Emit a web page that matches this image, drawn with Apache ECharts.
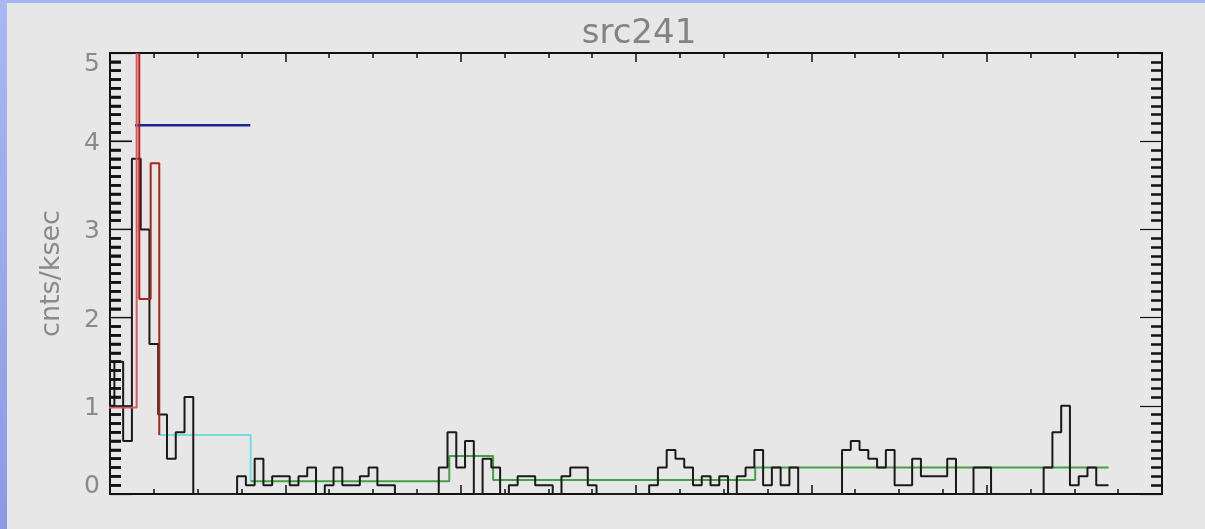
<!DOCTYPE html>
<html>
<head>
<meta charset="utf-8">
<script src="https://cdn.jsdelivr.net/npm/echarts@6/dist/echarts.min.js"></script>
<style>
html,body{margin:0;padding:0;background:#e7e7e7;}
#chart{width:1205px;height:529px;}
</style>
</head>
<body>
<div id="chart"></div>
<script>
// ---- data (x in bin units: 120 bins across the axis, y in cnts/ksec) ----
const titleText = 'src241';
const yAxisName = 'cnts/ksec';
const yTickLabels = ['0', '1', '2', '3', '4', '5'];

// black light-curve histogram, one value per bin (bin i spans i-0.5 .. i+0.5)
const blackValues = [
  1.0, 1.5, 0.6, 3.8, 3.0, 1.7, 0.9, 0.4, 0.7, 1.1,
  0, 0, 0, 0, 0, 0.2, 0.1, 0.4, 0.1, 0.2,
  0.2, 0.1, 0.2, 0.3, 0, 0.1, 0.3, 0.1, 0.1, 0.2,
  0.3, 0.1, 0.1, 0, 0, 0, 0, 0, 0.3, 0.7,
  0.3, 0.6, 0, 0.4, 0.3, 0, 0.1, 0.2, 0.2, 0.1,
  0.1, 0, 0.2, 0.3, 0.3, 0.1, 0, 0, 0, 0,
  0, 0, 0.1, 0.3, 0.5, 0.4, 0.3, 0.1, 0.2, 0.1,
  0.2, 0, 0.2, 0.3, 0.5, 0.1, 0.3, 0.1, 0.3, 0,
  0, 0, 0, 0, 0.5, 0.6, 0.5, 0.4, 0.3, 0.5,
  0.1, 0.1, 0.4, 0.2, 0.2, 0.2, 0.4, 0, 0, 0.3,
  0.3, 0, 0, 0, 0, 0, 0, 0.3, 0.7, 1.0,
  0.1, 0.2, 0.3, 0.1
];
const blackEnd = 113.9;

// block step functions: change points and the level that starts at each one
const pinkEdges = [-0.8, 3.04];
const pinkLevels = [0.98, 5.0];
const redEdges = [3.34, 3.34, 4.64, 5.62];
const redLevels = [5.0, 2.21, 3.75, 0.67];
const cyanEdges = [5.62, 16.05];
const cyanLevels = [0.67, 0.145];
const greenEdges = [16.05, 38.7, 43.7, 73.6, 113.9];
const greenLevels = [0.145, 0.43, 0.16, 0.3, 0.3];
const blueEdges = [2.85, 16.0];
const blueLevels = [4.18, 4.18];

// ---- build ----
function stepData(edges, levels) {
  return edges.map((e, i) => [e, levels[i]]);
}
const blackData = blackValues.map((v, i) => [i - 0.5, v]);
blackData.push([blackEnd, blackValues[blackValues.length - 1]]);

const W = 1205, gridLeft = 110, gridRight = 43, gridTop = 53, gridBottom = 35;
const xMin = 0, xMax = 120;
const yMin = 0, yMax = 5, yMajor = 1, yMinorSplit = 10;
const majorLen = 22, minorLen = 11;
const xPerPx = (xMax - xMin) / (W - gridLeft - gridRight);

// left-frame tick segments, made from the axis settings and drawn through the axis scales
const leftMajorTicks = [], leftMinorTicks = [];
for (let k = 1; k < Math.round((yMax - yMin) / yMajor * yMinorSplit); k++) {
  const v = yMin + k * yMajor / yMinorSplit;
  const major = k % yMinorSplit === 0;
  const len = (major ? majorLen : minorLen) * xPerPx;
  const arr = major ? leftMajorTicks : leftMinorTicks;
  arr.push([xMin, v], [xMin + len, v], [xMin + len, '-']);
}

const chart = echarts.init(document.getElementById('chart'), null, {renderer: 'canvas'});
const axisColor = '#111';
const labelColor = '#8a8a8a';
const font = 'DejaVu Sans';

function lineSeries(name, data, color, width, clip) {
  return {
    name: name, type: 'line', step: 'end', data: data, symbol: 'none',
    clip: clip, silent: true, animation: false, xAxisIndex: 0, yAxisIndex: 0,
    lineStyle: {color: color, width: width}
  };
}
function tickSeries(name, data, width) {
  return {
    name: name, type: 'line', data: data, symbol: 'none', connectNulls: false,
    clip: false, silent: true, animation: false, xAxisIndex: 0, yAxisIndex: 0, z: 10,
    lineStyle: {color: axisColor, width: width, cap: 'butt'}
  };
}
function tickXAxis(pos) {
  return {type: 'value', min: xMin, max: xMax, interval: 20, position: pos,
    axisLine: {show: true, onZero: false, lineStyle: {color: axisColor, width: 2}},
    axisTick: {show: true, inside: true, length: 9, lineStyle: {color: axisColor, width: 1.5}},
    minorTick: {show: true, splitNumber: 4, length: 5, lineStyle: {color: axisColor, width: 1.5}},
    axisLabel: {show: false}, splitLine: {show: false}};
}

const option = {
  backgroundColor: '#e7e7e7',
  animation: false,
  title: {
    text: titleText, left: 634, top: 12, textAlign: 'center',
    textStyle: {fontFamily: font, fontWeight: 'normal', fontSize: 34, color: '#838383'}
  },
  graphic: [
    {type: 'rect', left: 0, top: 0, shape: {width: 1205, height: 3}, style: {fill: '#a7b5f3'}, silent: true},
    {type: 'rect', left: 0, top: 0, shape: {width: 7, height: 529},
     style: {fill: new echarts.graphic.LinearGradient(0, 0, 0, 1, [{offset: 0, color: '#a9b7f4'}, {offset: 1, color: '#8b9be3'}])}, silent: true}
  ],
  grid: {left: gridLeft, right: gridRight, top: gridTop, bottom: gridBottom, containLabel: false},
  xAxis: [tickXAxis('bottom'), tickXAxis('top')],
  yAxis: [
    {type: 'value', min: yMin, max: yMax, interval: yMajor, position: 'left',
     name: yAxisName, nameLocation: 'middle', nameRotate: 90, nameGap: 45,
     nameTextStyle: {fontFamily: font, fontSize: 27, color: labelColor},
     axisLine: {show: true, onZero: false, lineStyle: {color: axisColor, width: 2}},
     axisTick: {show: true, inside: true, length: majorLen, lineStyle: {color: axisColor, width: 1.2}},
     minorTick: {show: true, splitNumber: yMinorSplit, length: minorLen, lineStyle: {color: axisColor, width: 2.5}},
     splitLine: {show: false},
     axisLabel: {
       margin: 10,
       formatter: function (v) {
         const s = yTickLabels[Math.round(v)];
         if (v >= 5) return '{top|' + s + '}';
         if (v <= 0) return '{bot|' + s + '}';
         return '{mid|' + s + '}';
       },
       rich: {
         top: {fontFamily: font, fontSize: 25, color: labelColor, padding: [22, 0, 0, 0]},
         bot: {fontFamily: font, fontSize: 25, color: labelColor, padding: [0, 0, 16, 0]},
         mid: {fontFamily: font, fontSize: 25, color: labelColor, padding: [5, 0, 0, 0]}
       }
     }},
    {type: 'value', min: yMin, max: yMax, interval: yMajor, position: 'right',
     axisLine: {show: true, onZero: false, lineStyle: {color: axisColor, width: 2}},
     axisTick: {show: true, inside: true, length: majorLen, lineStyle: {color: axisColor, width: 1.2}},
     minorTick: {show: true, splitNumber: yMinorSplit, length: minorLen, lineStyle: {color: axisColor, width: 2.5}},
     splitLine: {show: false}, axisLabel: {show: false}}
  ],
  series: [
    tickSeries('leftMinorTicks', leftMinorTicks, 2.5),
    tickSeries('leftMajorTicks', leftMajorTicks, 1.2),
    lineSeries('cyan', stepData(cyanEdges, cyanLevels), '#74dde1', 2, true),
    lineSeries('green', stepData(greenEdges, greenLevels), '#46a046', 2, true),
    lineSeries('blue', stepData(blueEdges, blueLevels), '#1c2590', 2.5, true),
    lineSeries('black', blackData, '#1a1a1a', 2, true),
    lineSeries('pink', stepData(pinkEdges, pinkLevels), '#d9585e', 2, false),
    lineSeries('red', stepData(redEdges, redLevels), '#a8281e', 2, true)
  ]
};
chart.setOption(option);
</script>
</body>
</html>
